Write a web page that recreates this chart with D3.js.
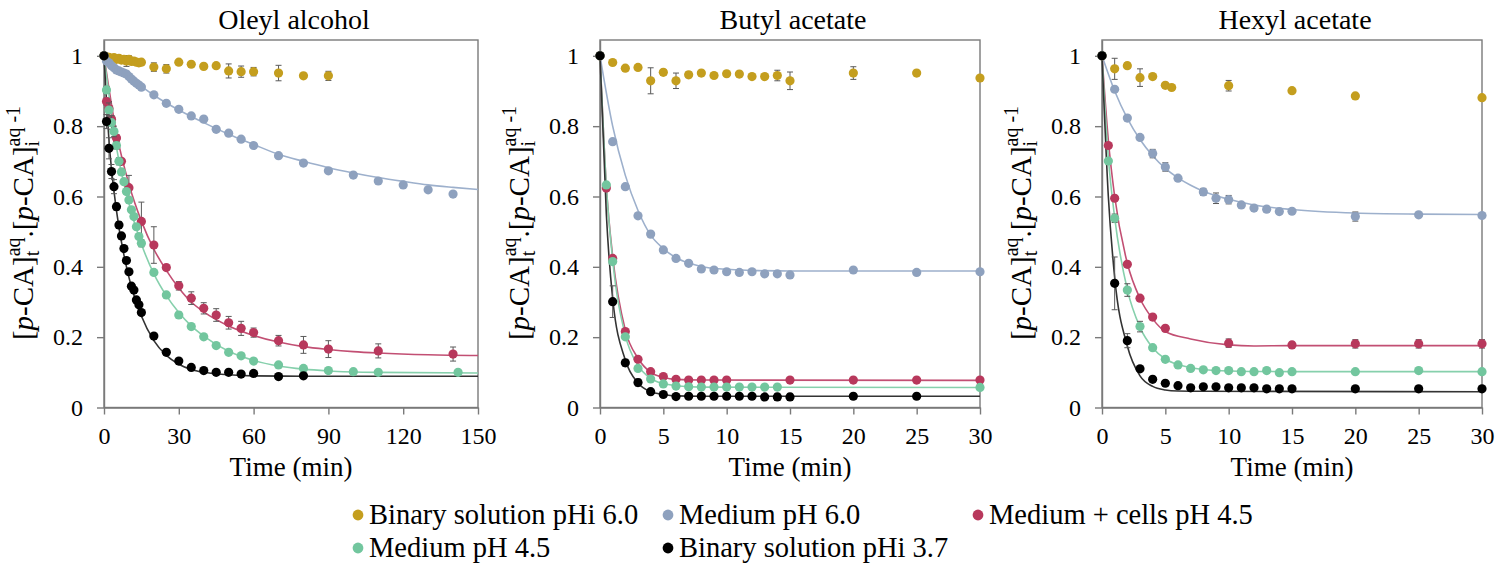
<!DOCTYPE html>
<html>
<head>
<meta charset="utf-8">
<script src="https://cdn.jsdelivr.net/npm/d3@7"></script>
<style>
  body { margin: 0; background: #fff; }
  text { font-family: "Liberation Serif", "Times New Roman", serif; fill: #000; }
</style>
</head>
<body>
<svg id="chart" width="1496" height="570"></svg>
<script>
// panel titles, series names and tick values
const panelTitles = ["Oleyl alcohol", "Butyl acetate", "Hexyl acetate"];
const seriesNames = ["Binary solution pHi 6.0", "Medium pH 6.0", "Medium + cells pH 4.5", "Medium pH 4.5", "Binary solution pHi 3.7"];
const seriesColors = ["#C49E1E", "#8EA1BE", "#B8385C", "#72C69E", "#000000"];
const fitColors = [null, "#9DB0CC", "#C24F73", "#86D0AC", "#333333"];
const xMaxima = [150, 30, 30];
const xTicksOleyl = [0, 30, 60, 90, 120, 150];
const xTicksAcetate = [0, 5, 10, 15, 20, 25, 30];
const yTicks = [0, 0.2, 0.4, 0.6, 0.8, 1];

// measured points: [time (min), relative concentration, error]
const oleylGold = [[0,1,0],[1,0.997,0],[2,0.996,0],[3,0.992,0.005],[4,0.995,0],[5,0.99,0.005],[6,0.993,0],[7,0.988,0],[8,0.99,0.01],[9,0.985,0.015],[10,0.99,0.01],[11,0.984,0],[12,0.985,0.005],[13,0.982,0],[14,0.98,0],[15,0.982,0],[20,0.968,0.012],[25,0.963,0.012],[30,0.982,0],[35,0.976,0],[40,0.97,0],[45,0.972,0],[50,0.957,0.02],[55,0.955,0.016],[60,0.955,0.012],[70,0.951,0.022],[80,0.943,0],[90,0.943,0.013]];
const oleylBlue = [[0,1,0],[1,0.985,0],[2,0.98,0],[3,0.972,0],[4,0.966,0],[5,0.96,0],[6,0.957,0],[7,0.954,0],[8,0.951,0],[9,0.948,0],[10,0.941,0],[11,0.934,0],[12,0.928,0],[13,0.922,0],[14,0.917,0],[15,0.911,0],[20,0.889,0],[25,0.865,0],[30,0.848,0],[35,0.829,0],[40,0.82,0],[45,0.791,0],[50,0.78,0],[55,0.763,0],[60,0.745,0],[70,0.716,0],[80,0.695,0],[90,0.673,0],[100,0.661,0],[110,0.644,0],[120,0.633,0],[130,0.619,0],[140,0.607,0]];
const oleylRed = [[0,1,0],[1,0.87,0.01],[2,0.85,0.02],[3,0.82,0],[5,0.766,0.01],[7,0.7,0],[10,0.625,0.035],[15,0.529,0.055],[20,0.462,0.052],[25,0.398,0],[30,0.346,0.012],[35,0.311,0.018],[40,0.282,0.016],[45,0.263,0.018],[50,0.241,0.018],[55,0.225,0.02],[60,0.213,0.013],[70,0.19,0.015],[80,0.178,0.024],[90,0.166,0.024],[110,0.161,0.02],[140,0.152,0.02]];
const oleylGreen = [[0,1,0],[1,0.903,0.01],[2,0.846,0.02],[3,0.81,0.02],[4,0.785,0.015],[5,0.745,0.01],[6,0.7,0.01],[7,0.67,0],[8,0.642,0],[9,0.614,0],[10,0.59,0],[11,0.562,0],[12,0.543,0],[13,0.514,0],[14,0.486,0],[15,0.467,0.01],[20,0.384,0],[25,0.32,0],[30,0.263,0.008],[35,0.23,0],[40,0.201,0],[45,0.176,0],[50,0.157,0],[55,0.147,0],[60,0.132,0],[70,0.121,0],[80,0.111,0],[90,0.105,0],[100,0.102,0],[110,0.1,0],[142,0.1,0]];
const oleylBlack = [[0,1,0],[1,0.813,0.02],[2,0.737,0.03],[3,0.671,0.02],[4,0.628,0.02],[5,0.571,0.01],[6,0.519,0.01],[7,0.488,0],[8,0.452,0],[9,0.418,0],[10,0.386,0],[11,0.345,0],[12,0.334,0],[13,0.306,0],[14,0.292,0],[15,0.27,0],[20,0.203,0],[25,0.157,0],[30,0.132,0],[35,0.114,0],[40,0.105,0],[45,0.1,0],[50,0.1,0],[55,0.095,0],[60,0.097,0],[70,0.088,0],[80,0.09,0]];

const butylGold = [[0,1,0],[1,0.981,0],[2,0.965,0],[3,0.967,0],[4,0.929,0.037],[5,0.953,0.008],[6,0.929,0.022],[7,0.946,0.008],[8,0.951,0],[9,0.944,0],[10,0.949,0],[11,0.948,0],[12,0.941,0],[13,0.941,0],[14,0.944,0.015],[15,0.929,0.025],[20,0.951,0.018],[25,0.951,0],[30,0.937,0]];
const butylBlue = [[0,1,0],[1,0.756,0],[2,0.628,0],[3,0.545,0],[4,0.493,0],[5,0.448,0],[6,0.424,0],[7,0.41,0],[8,0.394,0],[9,0.391,0],[10,0.386,0],[11,0.384,0],[12,0.386,0],[13,0.38,0],[14,0.38,0],[15,0.377,0],[20,0.391,0],[25,0.384,0],[30,0.386,0]];
const butylRed = [[0,1,0],[0.5,0.624,0],[1,0.424,0],[2,0.216,0],[3,0.137,0],[4,0.102,0],[5,0.088,0],[6,0.08,0],[7,0.078,0],[8,0.078,0],[9,0.078,0],[10,0.078,0],[15,0.078,0],[20,0.078,0],[25,0.078,0],[30,0.078,0]];
const butylGreen = [[0,1,0],[0.5,0.633,0],[1,0.415,0],[2,0.201,0],[3,0.111,0],[4,0.081,0],[5,0.067,0],[6,0.061,0],[7,0.059,0],[8,0.058,0],[9,0.058,0],[10,0.058,0],[11,0.058,0],[12,0.058,0],[13,0.058,0],[14,0.058,0],[30,0.057,0]];
const butylBlack = [[0,1,0],[1,0.301,0.045],[2,0.127,0.01],[3,0.071,0.01],[4,0.045,0],[5,0.037,0],[6,0.031,0],[7,0.032,0],[8,0.032,0],[9,0.032,0],[10,0.032,0],[11,0.032,0],[12,0.032,0],[13,0.03,0],[14,0.03,0.01],[15,0.03,0.01],[20,0.032,0.008],[25,0.032,0]];

const hexylGold = [[0,1,0],[1,0.963,0.03],[2,0.972,0.008],[3,0.938,0.025],[4,0.941,0],[5,0.916,0],[5.5,0.91,0],[10,0.915,0.015],[15,0.901,0],[20,0.886,0],[30,0.881,0]];
const hexylBlue = [[0,1,0],[1,0.905,0],[2,0.823,0],[3,0.768,0],[4,0.722,0.012],[5,0.684,0.012],[6,0.652,0],[8,0.613,0.01],[9,0.595,0.015],[10,0.591,0.012],[11,0.576,0],[12,0.567,0],[13,0.564,0.008],[14,0.557,0],[15,0.558,0.007],[20,0.543,0.013],[25,0.548,0],[30,0.546,0]];
const hexylRed = [[0,1,0],[0.5,0.745,0],[1,0.595,0],[2,0.407,0],[3,0.311,0],[4,0.257,0],[5,0.225,0],[10,0.183,0.012],[15,0.178,0.008],[20,0.181,0.012],[25,0.181,0.012],[30,0.181,0.012]];
const hexylGreen = [[0,1,0],[0.5,0.701,0],[1,0.538,0.012],[2,0.334,0.018],[3,0.23,0.015],[4,0.17,0],[5,0.137,0],[6,0.121,0],[7,0.111,0],[8,0.107,0],[9,0.105,0],[10,0.105,0],[11,0.102,0],[12,0.102,0],[13,0.105,0],[14,0.099,0],[15,0.102,0],[20,0.102,0],[25,0.105,0],[30,0.102,0]];
const hexylBlack = [[0,1,0],[1,0.353,0.075],[2,0.19,0.02],[3,0.11,0],[4,0.08,0],[5,0.069,0],[6,0.062,0],[7,0.056,0],[8,0.059,0],[9,0.059,0],[10,0.056,0],[11,0.056,0],[12,0.056,0],[13,0.053,0],[14,0.053,0],[15,0.053,0],[20,0.053,0],[25,0.053,0],[30,0.053,0]];

// fitted curves: [time, value]
const oleylBlueFit = [[0,1],[10,0.94],[20,0.888],[30,0.846],[40,0.81],[50,0.777],[60,0.748],[70,0.72],[80,0.7],[90,0.682],[100,0.667],[110,0.654],[120,0.643],[130,0.633],[140,0.626],[150,0.62]];
const oleylRedFit = [[0,1],[5,0.78],[10,0.635],[15,0.53],[20,0.45],[25,0.39],[30,0.34],[35,0.3],[40,0.272],[50,0.232],[60,0.205],[70,0.186],[80,0.173],[90,0.165],[100,0.159],[110,0.155],[130,0.15],[150,0.148]];
const oleylGreenFit = [[0,1],[5,0.74],[10,0.58],[15,0.465],[20,0.38],[25,0.318],[30,0.27],[35,0.232],[40,0.203],[50,0.16],[60,0.134],[70,0.118],[80,0.109],[90,0.104],[110,0.1],[150,0.098]];
const oleylBlackFit = [[0,1],[2,0.76],[5,0.56],[10,0.37],[15,0.26],[20,0.19],[25,0.148],[30,0.123],[35,0.108],[40,0.1],[50,0.093],[60,0.09],[80,0.089],[150,0.089]];

const butylBlueFit = [[0,1],[1,0.8],[2,0.66],[3,0.56],[4,0.49],[5,0.452],[6,0.426],[7,0.411],[8,0.401],[10,0.393],[12,0.39],[15,0.388],[20,0.388],[30,0.388]];
const butylRedFit = [[0,1],[0.5,0.63],[1,0.43],[2,0.22],[3,0.14],[4,0.1],[5,0.086],[6,0.08],[8,0.078],[30,0.077]];
const butylGreenFit = [[0,1],[0.5,0.63],[1,0.42],[2,0.205],[3,0.12],[4,0.083],[5,0.068],[6,0.062],[8,0.058],[30,0.057]];
const butylBlackFit = [[0,1],[0.5,0.55],[1,0.31],[2,0.135],[3,0.07],[4,0.045],[5,0.037],[6,0.033],[8,0.032],[30,0.032]];

const hexylBlueFit = [[0,1],[1,0.9],[2,0.822],[3,0.762],[4,0.716],[5,0.68],[6,0.653],[7,0.632],[8,0.615],[10,0.592],[12,0.576],[15,0.563],[20,0.553],[25,0.55],[30,0.549]];
const hexylRedFit = [[0,1],[0.5,0.76],[1,0.6],[2,0.41],[3,0.31],[4,0.252],[5,0.216],[7,0.195],[10,0.178],[12,0.175],[15,0.176],[30,0.176]];
const hexylGreenFit = [[0,1],[0.5,0.71],[1,0.54],[2,0.335],[3,0.228],[4,0.17],[5,0.138],[6,0.122],[7,0.113],[8,0.108],[10,0.104],[15,0.102],[30,0.102]];
const hexylBlackFit = [[0,1],[0.5,0.6],[1,0.37],[2,0.175],[3,0.09],[4,0.06],[5,0.05],[6,0.047],[8,0.046],[30,0.045]];

const panelPoints = [
  [oleylGold, oleylBlue, oleylRed, oleylGreen, oleylBlack],
  [butylGold, butylBlue, butylRed, butylGreen, butylBlack],
  [hexylGold, hexylBlue, hexylRed, hexylGreen, hexylBlack]
];
const panelFits = [
  [null, oleylBlueFit, oleylRedFit, oleylGreenFit, oleylBlackFit],
  [null, butylBlueFit, butylRedFit, butylGreenFit, butylBlackFit],
  [null, hexylBlueFit, hexylRedFit, hexylGreenFit, hexylBlackFit]
];

// layout
const panelLeft = [104, 600, 1102];
const panelRight = [478, 980, 1482];
const plotTop = 40;
const plotBottom = 407.5;
const frameColor = "#7a7a7a";

const svg = d3.select("#chart");

panelTitles.forEach((title, p) => {

  const x = d3.scaleLinear().domain([0, xMaxima[p]]).range([panelLeft[p], panelRight[p]]);
  const y = d3.scaleLinear().domain([0, 1.045]).range([plotBottom, plotTop]);
  const g = svg.append("g");

  // frame around the plot area
  g.append("rect")
    .attr("x", panelLeft[p]).attr("y", plotTop)
    .attr("width", panelRight[p] - panelLeft[p]).attr("height", plotBottom - plotTop)
    .attr("fill", "none").attr("stroke", frameColor).attr("stroke-width", 1.4);

  const xAxis = d3.axisBottom(x)
    .tickValues(p === 0 ? xTicksOleyl : xTicksAcetate)
    .tickSize(7).tickPadding(12).tickSizeOuter(0)
    .tickFormat(d3.format("d"));
  const yAxis = d3.axisLeft(y)
    .tickValues(yTicks)
    .tickSize(7).tickPadding(14).tickSizeOuter(0)
    .tickFormat(d => d === 0 || d === 1 ? d3.format("d")(d) : d3.format(".1f")(d));

  const gx = g.append("g").attr("transform", `translate(0,${plotBottom})`).call(xAxis);
  const gy = g.append("g").attr("transform", `translate(${panelLeft[p]},0)`).call(yAxis);

  [gx, gy].forEach(a => {
    a.select(".domain").attr("stroke", frameColor).attr("stroke-width", 1.4);
    a.selectAll(".tick line").attr("stroke", frameColor).attr("stroke-width", 1.4);
    a.selectAll(".tick text").attr("font-size", 24).attr("font-family", "Liberation Serif").attr("fill", "#000");
  });

  // fitted lines
  const line = d3.line()
    .x(d => x(d[0]))
    .y(d => y(d[1]))
    .curve(d3.curveMonotoneX);

  panelFits[p].forEach((fit, s) => {
    if (!fit) return;
    g.append("path")
      .datum(fit)
      .attr("d", line)
      .attr("fill", "none")
      .attr("stroke", fitColors[s])
      .attr("stroke-width", 1.6);
  });

  // error bars and points
  panelPoints[p].forEach((pts, s) => {
    const withErr = pts.filter(d => d[2] > 0);
    const eb = g.append("g").attr("stroke", "#5a5a5a").attr("stroke-width", 1);
    eb.selectAll("line.v").data(withErr).join("line").attr("class", "v")
      .attr("x1", d => x(d[0])).attr("x2", d => x(d[0]))
      .attr("y1", d => y(d[1] - d[2])).attr("y2", d => y(d[1] + d[2]));
    eb.selectAll("line.lo").data(withErr).join("line").attr("class", "lo")
      .attr("x1", d => x(d[0]) - 3).attr("x2", d => x(d[0]) + 3)
      .attr("y1", d => y(d[1] - d[2])).attr("y2", d => y(d[1] - d[2]));
    eb.selectAll("line.hi").data(withErr).join("line").attr("class", "hi")
      .attr("x1", d => x(d[0]) - 3).attr("x2", d => x(d[0]) + 3)
      .attr("y1", d => y(d[1] + d[2])).attr("y2", d => y(d[1] + d[2]));

    g.append("g").selectAll("circle").data(pts).join("circle")
      .attr("cx", d => x(d[0]))
      .attr("cy", d => y(d[1]))
      .attr("r", 4.6)
      .attr("fill", seriesColors[s]);
  });

  // titles
  const cx = (panelLeft[p] + panelRight[p]) / 2;
  g.append("text").attr("x", cx + 3).attr("y", 29)
    .attr("text-anchor", "middle").attr("font-size", 28).text(title);
  g.append("text").attr("x", cx).attr("y", 476)
    .attr("text-anchor", "middle").attr("font-size", 27).text("Time (min)");

  // y axis label: [p-CA]t^aq.[p-CA]i^aq -1
  const yl = g.append("text")
    .attr("transform", `translate(${panelLeft[p] - 71},223) rotate(-90)`)
    .attr("text-anchor", "middle").attr("font-size", 29);
  yl.append("tspan").text("[");
  yl.append("tspan").attr("font-style", "italic").text("p");
  yl.append("tspan").text("-CA]");
  yl.append("tspan").attr("font-size", 20).attr("dy", 6).text("t");
  yl.append("tspan").attr("font-size", 20).attr("dx", -5.6).attr("dy", -19).text("aq");
  yl.append("tspan").attr("dy", 13).text(".[");
  yl.append("tspan").attr("font-style", "italic").text("p");
  yl.append("tspan").text("-CA]");
  yl.append("tspan").attr("font-size", 20).attr("dy", 6).text("i");
  yl.append("tspan").attr("font-size", 20).attr("dx", -5.6).attr("dy", -19).text("aq -1");
});

// legend
const legendX = [358, 668, 978, 358, 668];
const legendY = [515, 515, 515, 548, 548];
const legendOrder = [0, 1, 2, 3, 4];
const lg = svg.append("g");
legendOrder.forEach((s, i) => {
  lg.append("circle").attr("cx", legendX[i]).attr("cy", legendY[i]).attr("r", 5.4).attr("fill", seriesColors[s]);
  lg.append("text").attr("x", legendX[i] + 11).attr("y", legendY[i] + 9)
    .attr("font-size", 28.5).text(seriesNames[s]);
});
</script>
</body>
</html>
